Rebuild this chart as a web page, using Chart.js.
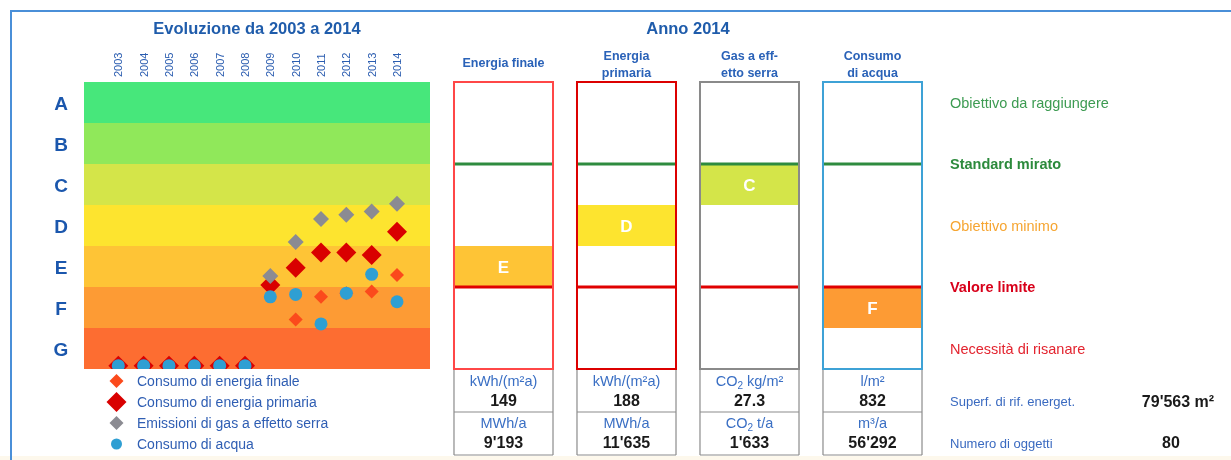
<!DOCTYPE html>
<html lang="it">
<head>
<meta charset="utf-8">
<title>Evoluzione da 2003 a 2014 – Anno 2014</title>
<script src="https://cdn.jsdelivr.net/npm/chart.js@4/dist/chart.umd.min.js"></script>
<style>
  html, body { margin: 0; padding: 0; background: #ffffff; }
  #stage { position: relative; width: 1231px; height: 460px; overflow: hidden; }
  #stage canvas { position: absolute; left: 0; top: 0; }
  .frame { position: absolute; left: 10px; top: 10px; width: 1240px; height: 460px;
           border-top: 2px solid #4a8fd8; border-left: 2px solid #4a8fd8; }
  .strip { position: absolute; left: 0; top: 456px; width: 1231px; height: 4px; background: #fdf8ec; }
</style>
</head>
<body>
<div id="stage">
  <div class="strip"></div>
  <div class="frame"></div>
  <canvas id="evo" width="1231" height="460"></canvas>
  <canvas id="anno" width="1231" height="460"></canvas>
</div>
<script>
// ---- energy classes, bottom (G) to top (A) ----
const classLetters = ['G', 'F', 'E', 'D', 'C', 'B', 'A'];
const classColors  = ['#fd6d31', '#fd9b34', '#fec436', '#fde42f', '#d4e549', '#90e85a', '#47e77b'];

// ---- evolution 2003–2014 (position on the class scale, 0 = bottom of G, 7 = top of A) ----
const years         = [2003, 2004, 2005, 2006, 2007, 2008, 2009, 2010, 2011, 2012, 2013, 2014];
const finalEnergy   = [0.08, 0.08, 0.08, 0.08, 0.08, 0.08, 2.03, 1.21, 1.76, 1.85, 1.89, 2.29];
const primaryEnergy = [0.08, 0.08, 0.08, 0.08, 0.08, 0.08, 2.05, 2.47, 2.84, 2.84, 2.78, 3.35];
const ghgEmissions  = [null, null, null, null, null, null, 2.27, 3.10, 3.66, 3.76, 3.84, 4.03];
const waterUse      = [0.08, 0.08, 0.08, 0.08, 0.08, 0.08, 1.76, 1.82, 1.10, 1.85, 2.31, 1.64];

// ---- year 2014 ----
const indicators     = ['Energia finale', 'Energia primaria', 'Gas a effetto serra', 'Consumo di acqua'];
const headerLines    = [['Energia finale'], ['Energia', 'primaria'], ['Gas a eff-', 'etto serra'], ['Consumo', 'di acqua']];
const classes2014    = ['E', 'D', 'C', 'F'];
const specificUnits  = ['kWh/(m²a)', 'kWh/(m²a)', 'CO₂ kg/m²', 'l/m²'];
const specificValues = ['149', '188', '27.3', '832'];
const totalUnits     = ['MWh/a', 'MWh/a', 'CO₂ t/a', 'm³/a'];
const totalValues    = ["9'193", "11'635", "1'633", "56'292"];

// class boundaries marked in every column
const standardBoundary = 5;   // between B and C
const limitBoundary    = 2;   // between E and F

const levelLabels = [
  { text: 'Obiettivo da raggiungere', at: 6.5, color: '#3d9b52', bold: false },
  { text: 'Standard mirato',          at: 5,   color: '#2c8a3c', bold: true  },
  { text: 'Obiettivo minimo',         at: 3.5, color: '#f6a531', bold: false },
  { text: 'Valore limite',            at: 2,   color: '#d8001a', bold: true  },
  { text: 'Necessità di risanare',    at: 0.5, color: '#e3242f', bold: false }
];

const buildingInfo = [
  { label: 'Superf. di rif. energet.', value: "79'563 m²", cx: 1178 },
  { label: 'Numero di oggetti',        value: '80',         cx: 1171 }
];

// ---- drawing helpers ----
const FONT = '"Liberation Sans", Arial, Helvetica, sans-serif';
function font(size, bold) { return (bold ? 'bold ' : '') + size + 'px ' + FONT; }

function text(ctx, str, x, baseline, size, color, bold, align) {
  ctx.font = font(size, bold);
  ctx.fillStyle = color;
  ctx.textAlign = align || 'left';
  ctx.textBaseline = 'alphabetic';
  ctx.fillText(str, x, baseline);
}

// centred text where "₂" is set as a lowered small digit
function richText(ctx, str, cx, baseline, size, color, bold) {
  const parts = str.split('₂');
  const subSize = Math.round(size * 0.7);
  let total = 0;
  parts.forEach((p, i) => {
    ctx.font = font(size, bold); total += ctx.measureText(p).width;
    if (i < parts.length - 1) { ctx.font = font(subSize, bold); total += ctx.measureText('2').width; }
  });
  let x = cx - total / 2;
  ctx.fillStyle = color; ctx.textAlign = 'left'; ctx.textBaseline = 'alphabetic';
  parts.forEach((p, i) => {
    ctx.font = font(size, bold); ctx.fillText(p, x, baseline); x += ctx.measureText(p).width;
    if (i < parts.length - 1) {
      ctx.font = font(subSize, bold); ctx.fillText('2', x, baseline + size * 0.22);
      x += ctx.measureText('2').width;
    }
  });
}

function marker(ctx, style, x, y, r, color) {
  ctx.fillStyle = color;
  ctx.beginPath();
  if (style === 'circle') {
    ctx.arc(x, y, r, 0, Math.PI * 2);
  } else {
    ctx.moveTo(x - r, y); ctx.lineTo(x, y - r); ctx.lineTo(x + r, y); ctx.lineTo(x, y + r);
    ctx.closePath();
  }
  ctx.fill();
}

const classIndex = letter => classLetters.indexOf(letter);
const points = values => years.map((yr, i) => ({ x: yr, y: values[i] }));

// ---- left panel: coloured class bands behind the yearly markers ----
const classBands = {
  id: 'classBands',
  beforeDatasetsDraw(chart) {
    const { ctx, chartArea: a, scales: { y } } = chart;
    ctx.save();
    classLetters.forEach((c, i) => {
      const top = y.getPixelForValue(i + 1);
      const bottom = y.getPixelForValue(i);
      ctx.fillStyle = classColors[i];
      ctx.fillRect(a.left, top, a.right - a.left, bottom - top);
    });
    ctx.restore();
  }
};

const evoDecor = {
  id: 'evoDecor',
  afterDraw(chart) {
    const { ctx, chartArea: a, scales: { x, y } } = chart;
    ctx.save();
    text(ctx, 'Evoluzione da 2003 a 2014', (a.left + a.right) / 2, 34.3, 16.5, '#1f5cab', true, 'center');

    // year labels, written upwards above each column
    years.forEach(yr => {
      const px = x.getPixelForValue(yr);
      ctx.save();
      ctx.translate(px + 4, a.top - 5);
      ctx.rotate(-Math.PI / 2);
      text(ctx, String(yr), 0, 0, 11, '#2b5db0', false, 'left');
      ctx.restore();
    });

    // class letters
    classLetters.forEach((c, i) => {
      text(ctx, c, 61, y.getPixelForValue(i + 0.5) + 7.5, 19, '#1b57ad', true, 'center');
    });

    // legend
    const rows = [381, 402, 423, 444];
    const legendRadius = [7, 10, 7, 5.5];
    chart.data.datasets.forEach((ds, i) => {
      marker(ctx, ds.pointStyle, 116.5, rows[i], legendRadius[i], ds.pointBackgroundColor);
      text(ctx, ds.label, 137, rows[i] + 5.2, 14, '#2f5eb3', false, 'left');
    });
    ctx.restore();
  }
};

new Chart(document.getElementById('evo'), {
  type: 'scatter',
  data: {
    datasets: [
      { label: 'Consumo di energia finale', data: points(finalEnergy), pointStyle: 'rectRot',
        pointRadius: 7, pointHoverRadius: 7, pointBackgroundColor: '#fb4a1c', backgroundColor: '#fb4a1c', order: 4 },
      { label: 'Consumo di energia primaria', data: points(primaryEnergy), pointStyle: 'rectRot',
        pointRadius: 10, pointHoverRadius: 10, pointBackgroundColor: '#d90000', backgroundColor: '#d90000', order: 3 },
      { label: 'Emissioni di gas a effetto serra', data: points(ghgEmissions), pointStyle: 'rectRot',
        pointRadius: 8, pointHoverRadius: 8, pointBackgroundColor: '#8b8b92', backgroundColor: '#8b8b92', order: 2 },
      { label: 'Consumo di acqua', data: points(waterUse), pointStyle: 'circle',
        pointRadius: 6.5, pointHoverRadius: 6.5, pointBackgroundColor: '#2f9fd3', backgroundColor: '#2f9fd3', order: 1 }
    ].map(ds => Object.assign(ds, { pointBorderWidth: 0, showLine: false, clip: 0 }))
  },
  options: {
    responsive: false,
    animation: false,
    devicePixelRatio: 1,
    layout: { padding: { left: 84, top: 82, right: 801, bottom: 91 } },
    scales: {
      x: { type: 'linear', min: 2001.646, max: 2015.302, display: false },
      y: { type: 'linear', min: 0, max: 7, display: false }
    },
    plugins: { legend: { display: false }, tooltip: { enabled: false } },
    events: []
  },
  plugins: [classBands, evoDecor]
});

// ---- right panel: class reached in 2014 per indicator ----
const annoDecor = {
  id: 'annoDecor',
  afterDraw(chart) {
    const { ctx, chartArea: a, scales: { y } } = chart;
    const meta = chart.getDatasetMeta(0);
    const yTop = y.getPixelForValue(7);
    const yBot = y.getPixelForValue(0);
    const tableMid = 412, tableBottom = 455;
    ctx.save();
    text(ctx, 'Anno 2014', (a.left + a.right) / 2, 34.3, 16.5, '#1f5cab', true, 'center');

    meta.data.forEach((bar, i) => {
      const { x, width, y: barTop, base } = bar.getProps(['x', 'width', 'y', 'base'], true);
      const left = x - width / 2, right = x + width / 2;

      // class letter inside the filled band
      text(ctx, classes2014[i], x, (barTop + base) / 2 + 6.1, 17, '#ffffff', true, 'center');

      // boundary lines
      ctx.lineWidth = 3;
      [[standardBoundary, '#2e8b3f'], [limitBoundary, '#e00000']].forEach(([v, col]) => {
        const py = y.getPixelForValue(v);
        ctx.strokeStyle = col;
        ctx.beginPath(); ctx.moveTo(left, py); ctx.lineTo(right, py); ctx.stroke();
      });

      // column frame
      ctx.lineWidth = 2;
      ctx.strokeStyle = chart.data.datasets[0].frameColor[i];
      ctx.strokeRect(left, yTop, width, yBot - yTop);

      // table below the column
      ctx.lineWidth = 1.2;
      ctx.strokeStyle = '#8c8c8c';
      ctx.beginPath();
      ctx.moveTo(left, yBot + 1); ctx.lineTo(left, tableBottom);
      ctx.moveTo(right, yBot + 1); ctx.lineTo(right, tableBottom);
      ctx.moveTo(left, tableMid); ctx.lineTo(right, tableMid);
      ctx.moveTo(left, tableBottom); ctx.lineTo(right, tableBottom);
      ctx.stroke();

      richText(ctx, specificUnits[i], x, 386, 14.5, '#3a6fc4', false);
      text(ctx, specificValues[i], x, 405.7, 16, '#1a1a1a', true, 'center');
      richText(ctx, totalUnits[i], x, 428.3, 14.5, '#3a6fc4', false);
      text(ctx, totalValues[i], x, 448.3, 16, '#1a1a1a', true, 'center');

      // column heading
      const lines = headerLines[i];
      const baselines = lines.length === 1 ? [66.7] : [59.5, 76.5];
      lines.forEach((ln, k) => text(ctx, ln, x, baselines[k], 12.5, '#2a62b8', true, 'center'));
    });

    // meaning of the class levels
    levelLabels.forEach(l => {
      text(ctx, l.text, 950, y.getPixelForValue(l.at) + 5.2, 14.5, l.color, l.bold, 'left');
    });

    // building stock summary
    const infoRows = [406.4, 448];
    buildingInfo.forEach((b, k) => {
      text(ctx, b.label, 950, infoRows[k], 13, '#3a6ac0', false, 'left');
      text(ctx, b.value, b.cx, infoRows[k] + 0.3, 16, '#1a1a1a', true, 'center');
    });
    ctx.restore();
  }
};

new Chart(document.getElementById('anno'), {
  type: 'bar',
  data: {
    labels: indicators,
    datasets: [{
      label: 'Classe 2014',
      data: classes2014.map(c => [classIndex(c), classIndex(c) + 1]),
      backgroundColor: classes2014.map(c => classColors[classIndex(c)]),
      frameColor: ['#ff4747', '#dc0000', '#8a8a8a', '#3ea2d6'],
      borderWidth: 0,
      barPercentage: 0.805,
      categoryPercentage: 1
    }]
  },
  options: {
    responsive: false,
    animation: false,
    devicePixelRatio: 1,
    layout: { padding: { left: 442, top: 82, right: 297, bottom: 91 } },
    scales: {
      x: { type: 'category', display: false },
      y: { type: 'linear', min: 0, max: 7, display: false }
    },
    plugins: { legend: { display: false }, tooltip: { enabled: false } },
    events: []
  },
  plugins: [annoDecor]
});
</script>
</body>
</html>
